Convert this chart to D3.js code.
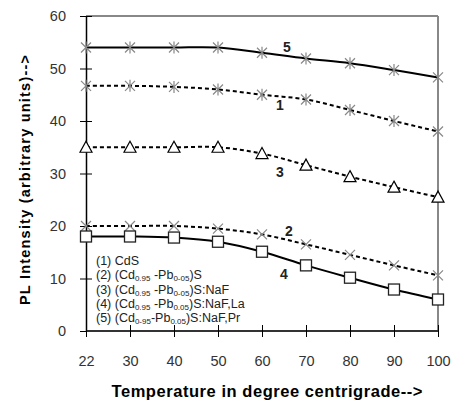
<!DOCTYPE html>
<html><head><meta charset="utf-8">
<script src="https://cdn.jsdelivr.net/npm/d3@7"></script>
<style>body{margin:0;background:#fff}svg{display:block;font-family:"Liberation Sans",Arial,sans-serif}</style>
</head><body><svg id="c" width="455" height="403"></svg>
<script>
const temps = ["22","30","40","50","60","70","80","90","100"];
const yTicks = [0,10,20,30,40,50,60];
const s1 = [46.7,46.7,46.5,46,45,44.1,42.1,40,38];
const s2 = [20,20,20,19.5,18.4,16.5,14.5,12.5,10.6];
const s3 = [35,35,35,35,33.8,31.6,29.4,27.4,25.5];
const s4 = [18,18,17.8,17,15.1,12.5,10.15,7.9,6];
const s5 = [54,54,54,54,53,51.9,51,49.7,48.3];
const seriesNames = ["1","2","3","4","5"];
const legendLines = [
  [["(1) CdS",""]],
  [["(2) (Cd",""],["0.95","sub"],[" -Pb",""],["0-05","sub"],[")S",""]],
  [["(3) (Cd",""],["0.95","sub"],[" -Pb",""],["0-05","sub"],[")S:NaF",""]],
  [["(4) (Cd",""],["0.95","sub"],[" -Pb",""],["0.05","sub"],[")S:NaF,La",""]],
  [["(5) (Cd",""],["0-95","sub"],["-Pb",""],["0.05","sub"],[")S:NaF,Pr",""]]
];

const svg = d3.select("#c");
const L=86, R=438, T=16, B=331;
const x = d3.scalePoint().domain(temps).range([L,R]);
const y = d3.scaleLinear().domain([0,60]).range([B,T]);

svg.append("line").attr("x1",L).attr("x2",R).attr("y1",T).attr("y2",T).attr("stroke","#888").attr("stroke-width",2);
svg.append("line").attr("x1",R).attr("x2",R).attr("y1",T).attr("y2",B).attr("stroke","#888").attr("stroke-width",2);

const ya = svg.append("g").attr("transform",`translate(${L},0)`)
  .call(d3.axisLeft(y).tickValues(yTicks).tickSize(6).tickSizeOuter(0).tickPadding(14));
ya.select(".domain").attr("stroke","#000").attr("stroke-width",1.5);
ya.selectAll(".tick line").attr("x2",6).attr("x1",-6).attr("stroke","#000");
ya.selectAll("text").attr("font-size",14.5).attr("fill","#333").attr("font-family","Liberation Sans, Arial");

const xa = svg.append("g").attr("transform",`translate(0,${B})`)
  .call(d3.axisBottom(x).tickSize(6).tickSizeOuter(0).tickPadding(19));
xa.select(".domain").attr("stroke","#333").attr("stroke-width",2).attr("d",`M${L},0H${R}`);
xa.selectAll(".tick line").attr("y1",-6).attr("y2",6).attr("stroke","#000");
xa.selectAll("text").attr("font-size",14.5).attr("fill","#333").attr("font-family","Liberation Sans, Arial");

const line = d3.line().x((d,i)=>x(temps[i])).y(d=>y(d)).curve(d3.curveCatmullRom.alpha(0.5));

const series = [
  {v:s5, dash:null, m:"ast", mc:"#888"},
  {v:s1, dash:"4,3", m:"ast", mc:"#888"},
  {v:s3, dash:"4,3", m:"tri", mc:"#000"},
  {v:s2, dash:"4,3", m:"x", mc:"#888"},
  {v:s4, dash:null, m:"sq", mc:"#222"}
];
series.forEach(s=>{
  svg.append("path").datum(s.v).attr("d",line).attr("fill","none").attr("stroke","#000")
    .attr("stroke-width",2).attr("stroke-dasharray",s.dash);
});
series.forEach(s=>{
  const g = svg.append("g");
  s.v.forEach((d,i)=>{
    const cx=x(temps[i]), cy=y(d);
    if(s.m==="ast"||s.m==="x"){
      const r=5;
      g.append("path").attr("d",`M${cx-r},${cy-r}L${cx+r},${cy+r}M${cx-r},${cy+r}L${cx+r},${cy-r}`+(s.m==="ast"?`M${cx},${cy-r-1}L${cx},${cy+r+1}`:""))
        .attr("stroke",s.mc).attr("stroke-width",1.2).attr("fill","none");
    } else if(s.m==="tri"){
      g.append("path").attr("d",`M${cx},${cy-6}L${cx+6},${cy+5}L${cx-6},${cy+5}Z`)
        .attr("fill","#fff").attr("stroke",s.mc).attr("stroke-width",1.2);
    } else {
      g.append("rect").attr("x",cx-5.5).attr("y",cy-5.5).attr("width",11).attr("height",11)
        .attr("fill","#fff").attr("stroke",s.mc).attr("stroke-width",1.3);
    }
  });
});

const lab = [["5",287,52],["1",280,110],["3",280,177],["2",289,236],["4",284,279]];
lab.forEach(l=>svg.append("text").attr("x",l[1]).attr("y",l[2]).attr("text-anchor","middle")
  .attr("font-size",14).attr("font-weight","bold").attr("fill","#222").text(l[0]));

legendLines.forEach((parts,i)=>{
  const t = svg.append("text").attr("x",96).attr("y",265+i*14.3).attr("font-size",12.5).attr("fill","#222")
    .attr("textLength", i===0?null:null);
  parts.forEach((p,j)=>{
    const ts=t.append("tspan").text(p[0]);
    if(p[1]==="sub") ts.attr("font-size",8).attr("dy",2);
    else if(j>0) ts.attr("dy",-2);
  });
});

svg.append("text").attr("x",267).attr("y",397).attr("text-anchor","middle").attr("font-size",16.5)
  .attr("font-weight","bold").attr("fill","#000").attr("textLength",311).attr("lengthAdjust","spacing")
  .text("Temperature in degree centrigrade-->");
svg.append("text").attr("transform","translate(30,180) rotate(-90)").attr("text-anchor","middle")
  .attr("font-size",14.5).attr("font-weight","bold").attr("fill","#000").attr("textLength",250).attr("lengthAdjust","spacing")
  .text("PL Intensity (arbitrary units)-->");
</script></body></html>
